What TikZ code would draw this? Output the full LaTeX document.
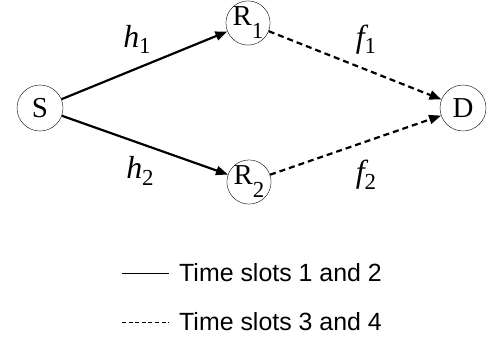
\documentclass[tikz,border=0pt]{standalone}
\usepackage{fontspec}
\setmainfont{Liberation Serif}
\newfontfamily\legendfont{Liberation Sans}
\usepackage{tikz}
\usetikzlibrary{arrows.meta, positioning}
\newcommand{\lowidx}[4]{#1\raisebox{-#4}{\fontsize{#3}{#3}\selectfont #2}}
\newcommand{\nodefont}{\fontsize{29}{29}\selectfont}

\begin{document}
\begin{tikzpicture}[x=1bp, y=-1bp,
  relay/.style={draw, circle, inner sep=0pt, minimum size=42bp, font=\nodefont},
  term/.style={relay, minimum size=46bp},
  hop/.style={line width=2.2bp, -{Triangle[length=12bp, width=9bp]}},
  relayhop/.style={hop, dash pattern=on 6bp off 4bp},
  gain/.style={inner sep=0pt, font=\fontsize{32}{32}\selectfont\itshape},
  slot/.style={anchor=west, inner sep=0pt, font=\legendfont\fontsize{25}{25}\selectfont}]
  \useasboundingbox (0,0) rectangle (497,343);
  % terminals and relays ------------------------------------------
  \node[term] (S) at (40,108) {S};
  \node[relay] (R1) at (248,23) {\lowidx{R}{1}{23}{13bp}};
  \node[relay] (R2) at (249,182) {\lowidx{R}{2}{23}{13bp}};
  \node[term] (D) at (463,108) {D};
  % hops ----------------------------------------------------------
  \draw[hop] (S) -- (R1);
  \draw[hop] (S) -- (R2);
  \draw[relayhop] (R1) -- (D);
  \draw[relayhop] (R2) -- (D);
  % channel labels ------------------------------------------------
  \node[gain] (h1) at (137,39) {\lowidx{h}{\upshape 1}{23}{6bp}};
  \node[gain] (h2) at (140,171) {\lowidx{h}{\upshape 2}{23}{7bp}};
  \node[gain] (f1) at (366,40) {\lowidx{f}{\upshape 1}{23}{6bp}};
  \node[gain] (f2) at (366,175) {\lowidx{f}{\upshape 2}{23}{7bp}};
  % legend --------------------------------------------------------
  \coordinate (solidA) at (122,273);
  \coordinate (solidB) at (169,273);
  \draw[line width=0.8bp] (solidA) -- (solidB);
  \node[slot] (slot12) at (179,273) {Time slots 1 and 2};
  \coordinate (dashA) at (122,322);
  \coordinate (dashB) at (169,322);
  \draw[line width=0.8bp, dash pattern=on 4bp off 2.6bp] (dashA) -- (dashB);
  \node[slot] (slot34) at (179,322) {Time slots 3 and 4};
\end{tikzpicture}
\end{document}
